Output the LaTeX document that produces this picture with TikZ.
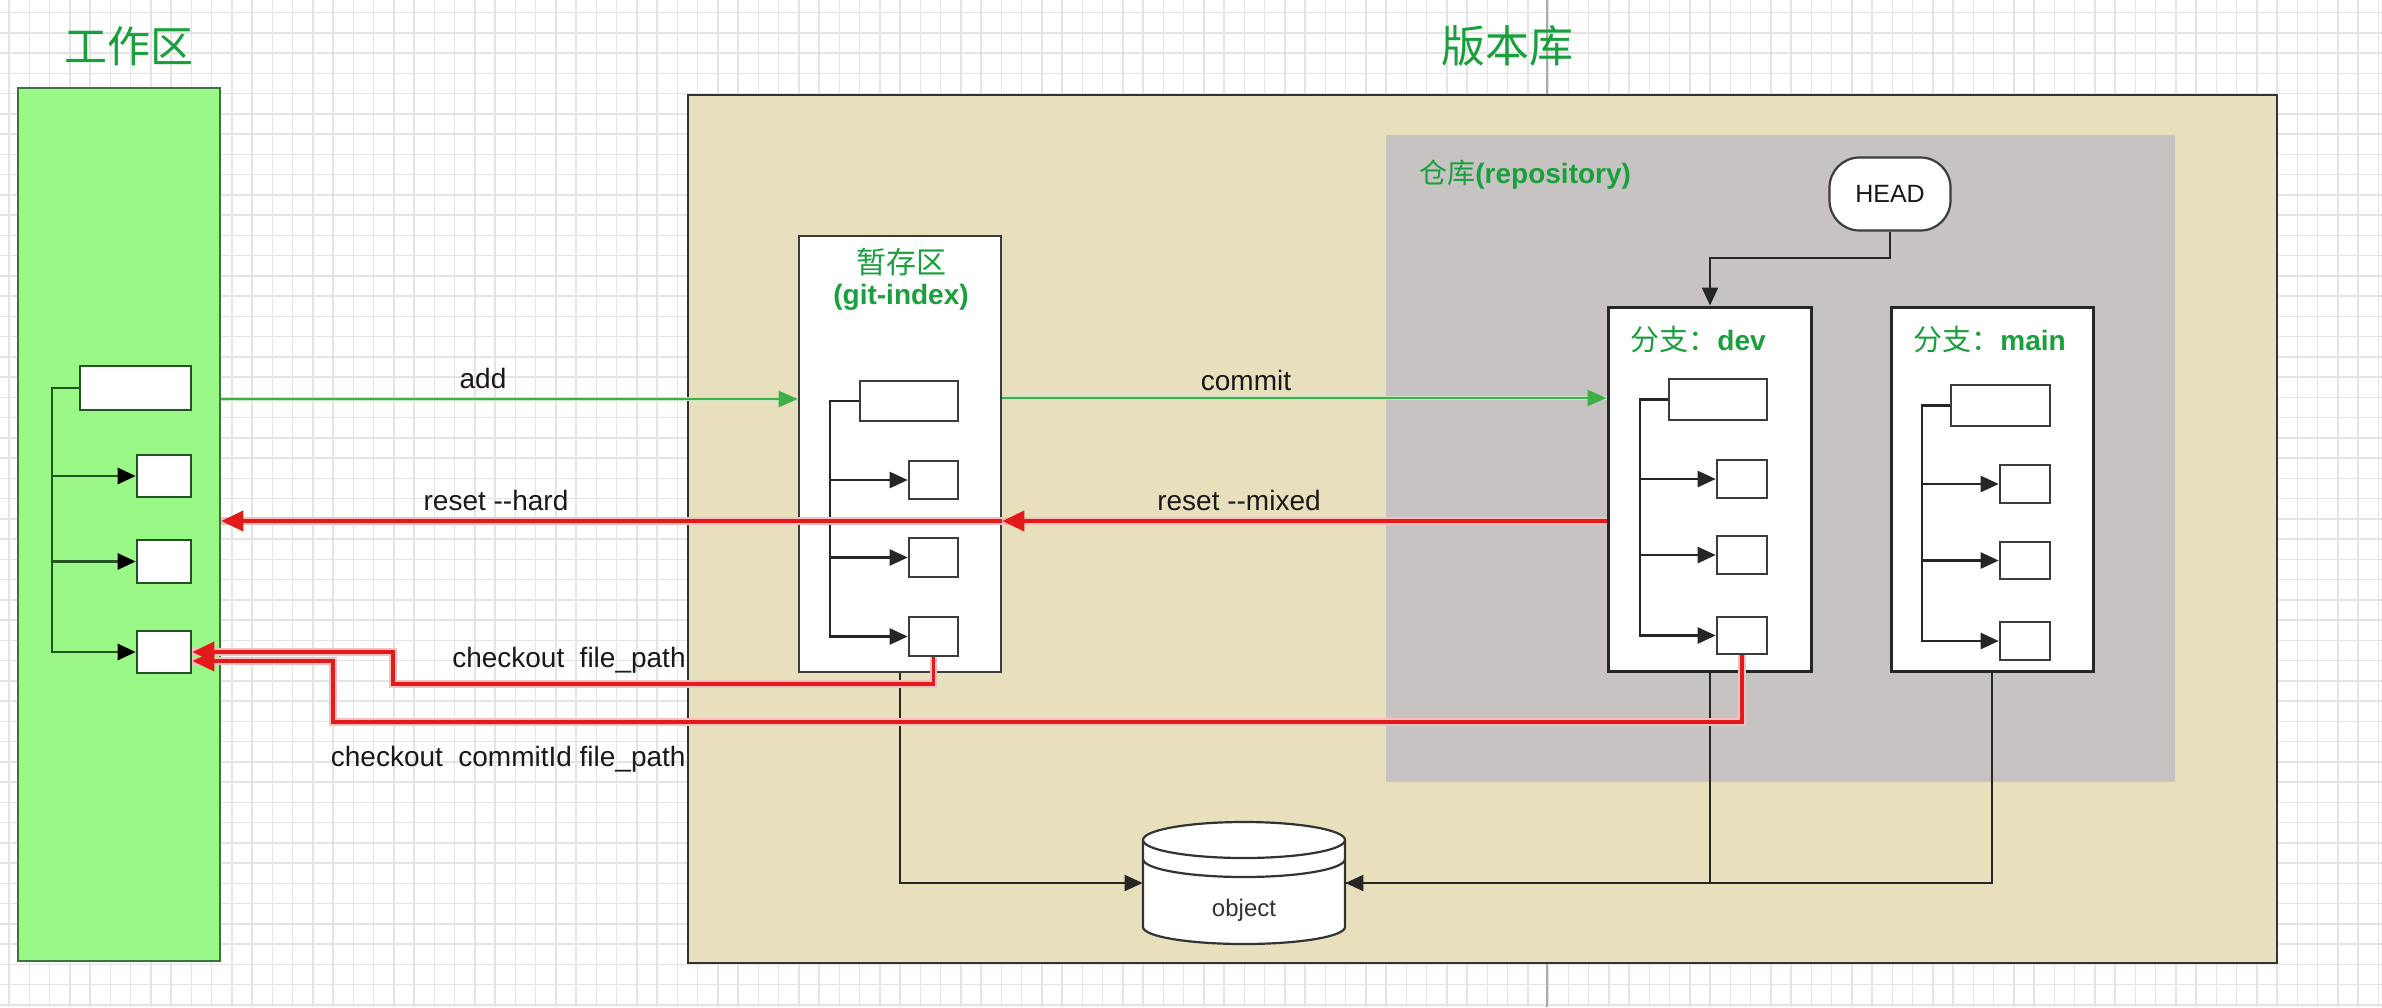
\documentclass[tikz,border=0pt]{standalone}
\usepackage{fontspec}
\setmainfont{Liberation Sans}
\newfontfamily\cjk{Noto Sans CJK SC}
\usetikzlibrary{arrows.meta,fit,calc}
\definecolor{gridc}{RGB}{228,228,228}
\definecolor{pagec}{RGB}{170,170,170}
\definecolor{wzfill}{RGB}{153,248,134}
\definecolor{wzdraw}{RGB}{60,115,60}
\definecolor{tanc}{RGB}{232,224,188}
\definecolor{repoc}{RGB}{199,195,195}
\definecolor{lblgreen}{RGB}{25,160,60}
\definecolor{redc}{RGB}{226,26,26}
\definecolor{greenarr}{RGB}{60,175,70}
\definecolor{boxdraw}{RGB}{60,60,60}
\definecolor{txtc}{RGB}{25,25,25}
\definecolor{gtreec}{RGB}{35,85,35}
\begin{document}
\begin{tikzpicture}[x=0.5pt,y=-0.5pt,
  gridline/.style={draw=gridc, line width=0.75pt},
  wzbox/.style={draw=wzdraw, fill=wzfill, line width=1.3pt, inner sep=0pt, fit={#1}},
  tanbox/.style={draw=black!80, fill=tanc, line width=1.1pt, inner sep=0pt, fit={#1}},
  repobox/.style={fill=repoc, inner sep=0pt, fit={#1}},
  fbox/.style={draw=boxdraw, fill=white, line width=1.3pt, inner sep=0pt, fit={#1}},
  gbox/.style={draw=gtreec, fill=white, line width=1.3pt, inner sep=0pt, fit={#1}},
  brbox/.style={draw=black!85, fill=white, line width=1.5pt, inner sep=0pt, fit={#1}},
  hidbox/.style={inner sep=0pt, fit={#1}},
  lbl/.style={font=\fontsize{14}{16}\selectfont, text=txtc, inner sep=0pt},
  treearr/.style={draw=black!85, line width=1.2pt, -{Triangle[length=9pt,width=8pt]}},
  gtreearr/.style={draw=gtreec, line width=1.4pt, -{Triangle[length=9pt,width=8pt,color=black]}},
  greenarrow/.style={draw=greenarr, line width=1.1pt, -{Triangle[length=9.5pt,width=8pt]},
    preaction={draw=greenarr!30, line width=2.4pt, -}},
  redarr/.style={draw=redc, line width=1.9pt, -{Triangle[length=11pt,width=10pt]},
    preaction={draw=redc!28, line width=3.6pt, -}},
  objline/.style={draw=black!85, line width=0.9pt},
  objarr/.style={draw=black!85, line width=1pt, -{Triangle[length=9pt,width=8pt]}},
]
\useasboundingbox (0,0) rectangle (2382,1007);
\fill[white] (0,0) rectangle (2382,1007);
% background grid
\foreach \gx in {9.2,29.45,...,2382} \draw[gridline] (\gx,0) -- (\gx,1007);
\foreach \gy in {12.7,32.95,...,1007} \draw[gridline] (0,\gy) -- (2382,\gy);
\draw[draw=pagec, line width=0.6pt] (1547,0) -- (1547,1007);

% main areas
\node[wzbox={(18,88) (220,961)}] (wz) {};
\node[tanbox={(688,95) (2277,963)}] (bk) {};
\node[repobox={(1386,135) (2175,782)}] (repo) {};

% titles
\node[font={\cjk\fontsize{21.5}{24}\selectfont}, text=lblgreen] (twz) at (129,46) {工作区};
\node[font={\cjk\fontsize{22}{24}\selectfont}, text=lblgreen] (tbk) at (1507,46) {版本库};
\node[anchor=west, inner sep=0pt, font={\fontsize{14}{16}\selectfont}, text=lblgreen] (trepo) at (1419,175) {{\cjk 仓库}\textbf{(repository)}};

% working area tree
\node[gbox={(80,366) (191,410)}] (g0) {};
\node[gbox={(137,455) (191,497)}] (g1) {};
\node[gbox={(137,540) (191,583)}] (g2) {};
\node[gbox={(137,631) (191,673)}] (g3) {};
\coordinate (gv) at (52,0);
\draw[gtreearr] (g0.west) -- (g0.west -| gv) |- (g3.west);
\draw[gtreearr] (g1.west -| gv) -- (g1.west);
\draw[gtreearr] (g2.west -| gv) -- (g2.west);

% staging area
\node[fbox={(799,236) (1001,672)}] (stg) {};
\node[font={\cjk\fontsize{15}{17}\selectfont}, text=lblgreen] (tstg) at (901,262) {暂存区};
\node[font={\bfseries\fontsize{14}{16}\selectfont}, text=lblgreen] (tidx) at (901,297) {(git-index)};
\node[fbox={(860,381) (958,421)}] (s0) {};
\node[fbox={(909,461) (958,499)}] (s1) {};
\node[fbox={(909,538) (958,577)}] (s2) {};
\node[fbox={(909,617) (958,656)}] (s3) {};
\coordinate (sv) at (830,0);
\draw[treearr] (s0.west) -- (s0.west -| sv) |- (s3.west);
\draw[treearr] (s1.west -| sv) -- (s1.west);
\draw[treearr] (s2.west -| sv) -- (s2.west);

% HEAD
\node[draw=boxdraw, fill=white, line width=1.1pt, rounded corners=15pt, minimum width=60.5pt, minimum height=36.5pt, inner sep=0pt, font={\fontsize{12.5}{14}\selectfont}, text=txtc] (head) at (1890,194) {HEAD};

% dev branch
\node[brbox={(1608,307) (1811,671)}] (dev) {};
\node[anchor=west, inner sep=0pt, font={\fontsize{14}{16}\selectfont}, text=lblgreen] (tdev) at (1630,340) {{\cjk\fontsize{14.5}{16}\selectfont 分支：}\textbf{dev}};
\node[fbox={(1669,379) (1767,420)}] (d0) {};
\node[fbox={(1717,460) (1767,498)}] (d1) {};
\node[fbox={(1717,536) (1767,574)}] (d2) {};
\node[fbox={(1717,617) (1767,654)}] (d3) {};
\coordinate (dv) at (1640,0);
\draw[treearr] (d0.west) -- (d0.west -| dv) |- (d3.west);
\draw[treearr] (d1.west -| dv) -- (d1.west);
\draw[treearr] (d2.west -| dv) -- (d2.west);

% main branch
\node[brbox={(1891,307) (2093,671)}] (main) {};
\node[anchor=west, inner sep=0pt, font={\fontsize{14}{16}\selectfont}, text=lblgreen] (tmain) at (1913,340) {{\cjk\fontsize{14.5}{16}\selectfont 分支：}\textbf{main}};
\node[fbox={(1951,385) (2050,426)}] (m0) {};
\node[fbox={(2000,465) (2050,503)}] (m1) {};
\node[fbox={(2000,542) (2050,579)}] (m2) {};
\node[fbox={(2000,622) (2050,660)}] (m3) {};
\coordinate (mv) at (1922,0);
\draw[treearr] (m0.west) -- (m0.west -| mv) |- (m3.west);
\draw[treearr] (m1.west -| mv) -- (m1.west);
\draw[treearr] (m2.west -| mv) -- (m2.west);

% HEAD -> dev
\coordinate (hj) at (1710,258);
\draw[treearr] (head.south) |- (hj) -- (hj |- dev.north);

% object cylinder
\node[hidbox={(1143,822) (1345,944)}] (obj) {};
\begin{scope}[shift={(obj.center)}, x=1pt, y=1pt]
  \filldraw[fill=white, draw=black!80, line width=1.1pt]
    (-50.5,21.5) -- (-50.5,-22) arc[start angle=180, end angle=360, x radius=50.5pt, y radius=8.5pt]
    -- (50.5,21.5) arc[start angle=0, end angle=180, x radius=50.5pt, y radius=9pt] -- cycle;
  \draw[draw=black!80, line width=1.1pt] (-50.5,21.5) arc[start angle=180, end angle=360, x radius=50.5pt, y radius=9pt];
  \draw[draw=black!80, line width=1.1pt] (-50.5,12) arc[start angle=180, end angle=360, x radius=50.5pt, y radius=9pt];
\end{scope}
\node[font={\fontsize{12}{14}\selectfont}, text=black!80, inner sep=0pt] (tobj) at (1244,910) {object};

\draw[objarr] (stg.south) |- (obj.west);
\draw[objarr] (dev.south) |- (obj.east);
\draw[objline] (main.south) |- (obj.east);

% add / commit
\coordinate (addy) at (0,399);
\draw[greenarrow] (wz.east |- addy) -- (stg.west |- addy);
\coordinate (comy) at (0,398);
\draw[greenarrow] (stg.east |- comy) -- (dev.west |- comy);

% resets
\coordinate (rsy) at (0,521);
\draw[redarr] (dev.west |- rsy) -- (wz.east |- rsy);
\draw[redarr] (dev.west |- rsy) -- (stg.east |- rsy);

% checkouts
\coordinate (cf1) at (393,684);
\coordinate (cf2) at (393,652);
\draw[redarr] (s3.south) |- (cf1) -- (cf2) -- (g3.east |- cf2);
\coordinate (cc1) at (333,722);
\coordinate (cc2) at (333,661);
\draw[redarr] (d3.south) |- (cc1) -- (cc2) -- (g3.east |- cc2);

% labels
\node[lbl] (ladd) at (483,378) {add};
\node[lbl] (lcommit) at (1246,380) {commit};
\node[lbl] (lhard) at (496,500) {reset -{}-hard};
\node[lbl] (lmixed) at (1239,500) {reset -{}-mixed};
\node[lbl, anchor=east] (lcf) at (686,660) {checkout\hspace{0.55em}file\_path};
\node[lbl, anchor=east] (lcc) at (686,759) {checkout\hspace{0.55em}commitId file\_path};
\end{tikzpicture}
\end{document}
